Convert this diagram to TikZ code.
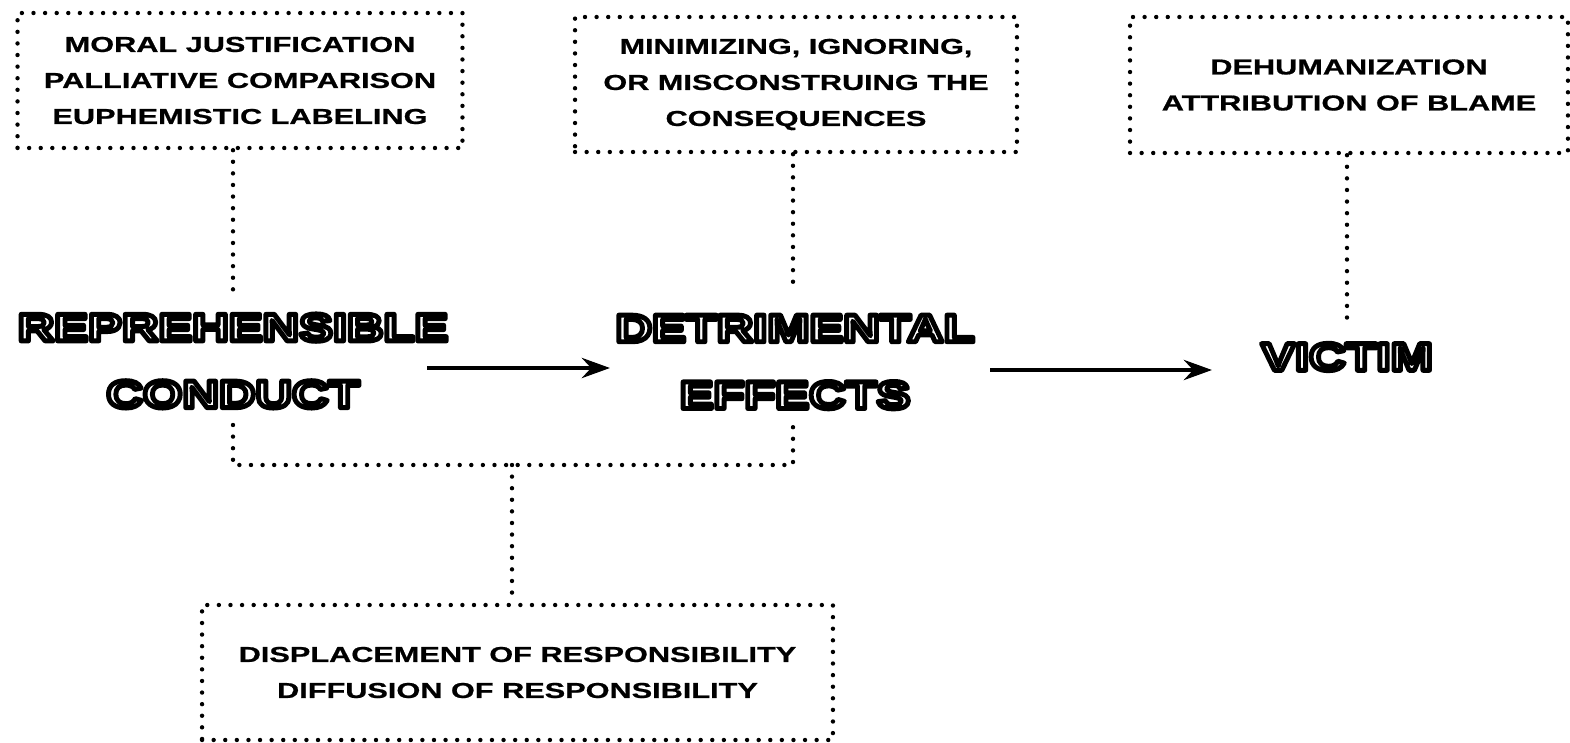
\documentclass[tikz,border=0pt]{standalone}
\usepackage{fontspec}
\usetikzlibrary{arrows.meta}
\setmainfont{Liberation Sans}
\newfontfamily\smallfont[FakeStretch=1.42,FakeBold=0.8]{Liberation Sans}
\newfontfamily\bigfont[FakeStretch=1.31]{Liberation Sans}
\newcommand\hollowtxt[1]{{\color{white}\special{pdf:literal direct 2 Tr 2.8 w 0 G 1 j}#1\special{pdf:literal direct 0 Tr}}}
\begin{document}
\begin{tikzpicture}[x=0.02cm,y=-0.02cm,
  dotline/.style={line width=2.5pt, dash pattern=on 0pt off 6.6pt, line cap=round},
  dotbox/.style={draw, dotline, align=center, inner sep=0pt,
    font=\smallfont\bfseries\fontsize{12.3}{20.5}\selectfont},
  bigtxt/.style={align=center, inner sep=0pt,
    font=\bigfont\bfseries\fontsize{22}{38}\selectfont},
  arr/.style={line width=2.8pt, -{Stealth[length=0.56cm,width=0.4cm]}}]
\path[use as bounding box] (0,0) rectangle (1570,743);

\node[dotbox, minimum width=8.9cm, minimum height=2.7cm] (box1) at (240,80.5)
  {MORAL JUSTIFICATION\\PALLIATIVE COMPARISON\\EUPHEMISTIC LABELING};
\node[dotbox, minimum width=8.84cm, minimum height=2.7cm] (box2) at (796,84.5)
  {MINIMIZING, IGNORING,\\OR MISCONSTRUING THE\\CONSEQUENCES};
\node[dotbox, minimum width=8.76cm, minimum height=2.72cm] (box3) at (1349,85)
  {DEHUMANIZATION\\ATTRIBUTION OF BLAME};
\node[dotbox, minimum width=12.62cm, minimum height=2.7cm] (box4) at (517.5,672.5)
  {DISPLACEMENT OF RESPONSIBILITY\\DIFFUSION OF RESPONSIBILITY};

\node[bigtxt] (conduct) at (233,361) {\hollowtxt{REPREHENSIBLE}\\\hollowtxt{CONDUCT}};
\node[bigtxt] (effects) at (795,362) {\hollowtxt{DETRIMENTAL}\\\hollowtxt{EFFECTS}};
\node[bigtxt] (victim) at (1347,357) {\hollowtxt{VICTIM}};

\coordinate (c1) at (233,290);
\coordinate (c2) at (793,290);
\coordinate (c3) at (1347,320);
\coordinate (b1) at (233,425);
\coordinate (b2) at (793,425);
\coordinate (bl) at (233,465);
\coordinate (br) at (793,465);
\coordinate (bm) at (512,465);
\coordinate (a1s) at (427,368);
\coordinate (a1e) at (610,368);
\coordinate (a2s) at (990,370);
\coordinate (a2e) at (1212,370);

\draw[dotline] (box1.south -| c1) -- (c1);
\draw[dotline] (box2.south -| c2) -- (c2);
\draw[dotline] (box3.south -| c3) -- (c3);
\draw[dotline] (b1) -- (bl) -- (br) -- (b2);
\draw[dotline] (bm) -- (box4.north -| bm);

\draw[arr] (a1s) -- (a1e);
\draw[arr] (a2s) -- (a2e);
\end{tikzpicture}
\end{document}
